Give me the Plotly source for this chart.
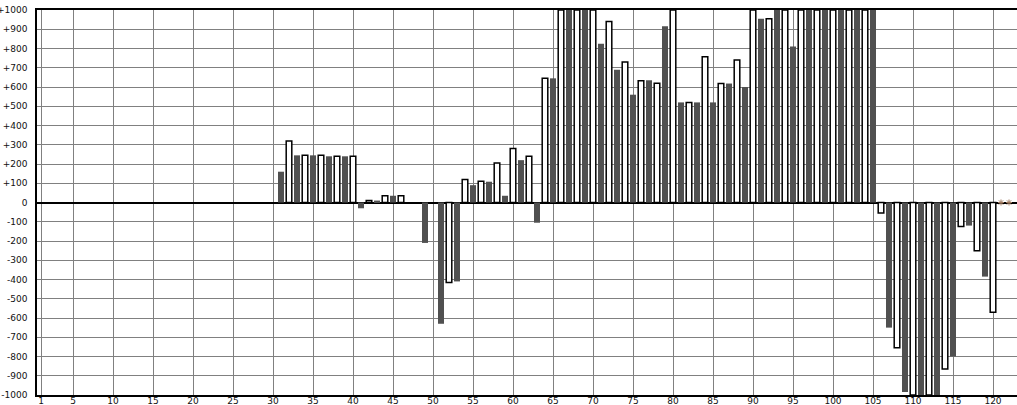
import plotly.graph_objects as go

# ------------------------------------------- Data -------------------------------------------

days = list(range(1, 123))

values = [
    0, 0, 0, 0, 0, 0, 0, 0, 0, 0,
    0, 0, 0, 0, 0, 0, 0, 0, 0, 0,
    0, 0, 0, 0, 0, 0, 0, 0, 0, 0,
    160, 320, 245, 245, 245, 245, 240, 240, 240, 240,
    -30, 10, 10, 35, 35, 35, 0, 0, -210, 0,
    -630, -415, -410, 120, 90, 110, 108, 205, 35, 280,
    220, 240, -105, 645, 645, 1000, 1000, 1000, 1000, 1000,
    825, 940, 690, 730, 560, 632, 635, 620, 915, 1000,
    520, 520, 520, 757, 520, 618, 618, 740, 600, 1000,
    955, 955, 1000, 1000, 810, 1000, 1000, 1000, 1000, 1000,
    1000, 1000, 1000, 1000, 1000, -55, -650, -755, -985, -1000,
    -1000, -1000, -1000, -865, -800, -125, -120, -250, -385, -570,
    0, 0,
]

# days with no bar but a small marker on the zero line
marked_days = [121, 122]
marked_values = [0, 0]

x_ticks = [1] + list(range(5, 121, 5))
y_ticks = list(range(1000, -1001, -100))
y_tick_text = ['+{}'.format(v) if v > 0 else str(v) for v in y_ticks]

# ------------------------------------------- Figure -------------------------------------------

# Split into odd (dark) and even (white) days, skipping empty days
odd_days = [d for d, v in zip(days, values) if d % 2 == 1 and v != 0]
odd_values = [v for d, v in zip(days, values) if d % 2 == 1 and v != 0]
even_days = [d for d, v in zip(days, values) if d % 2 == 0 and v != 0]
even_values = [v for d, v in zip(days, values) if d % 2 == 0 and v != 0]

fig = go.Figure()

# Dark bars (odd days)
fig.add_trace(go.Bar(x=odd_days, y=odd_values, width=0.75,
                     marker=dict(color='#505050', line=dict(width=0))))

# White outlined bars (even days)
fig.add_trace(go.Bar(x=even_days, y=even_values, width=0.7,
                     marker=dict(color='white', line=dict(color='black', width=1.5))))

# Small markers
fig.add_trace(go.Scatter(x=marked_days, y=marked_values, mode='markers',
                         marker=dict(symbol='asterisk-open', size=5, color='#a07a60',
                                     line=dict(color='#a07a60', width=1))))

fig.update_layout(
    width=1017, height=405,
    margin=dict(l=37, r=0, t=10, b=10),
    paper_bgcolor='white', plot_bgcolor='white',
    barmode='overlay', showlegend=False,
    font=dict(family='DejaVu Sans', size=9, color='#111111'),
)

fig.update_xaxes(range=[0.5, 123], tickvals=x_ticks, ticks='', automargin=False,
                 showgrid=True, gridcolor='#808080', gridwidth=1,
                 showline=True, linecolor='black', linewidth=1.5, mirror=True,
                 zeroline=False, ticklabelstandoff=-4)

fig.update_yaxes(range=[-1000, 1000], tickvals=y_ticks, ticktext=y_tick_text, ticks='',
                 automargin=False,
                 showgrid=True, gridcolor='#808080', gridwidth=1,
                 showline=True, linecolor='black', linewidth=1.5,
                 zeroline=True, zerolinecolor='black', zerolinewidth=1.5,
                 ticklabelstandoff=6)

# Remove the default page margin so the figure sits at the window's corner
fig.write_html("out.html", config={'displayModeBar': False},
               post_script="document.body.style.margin='0';")
